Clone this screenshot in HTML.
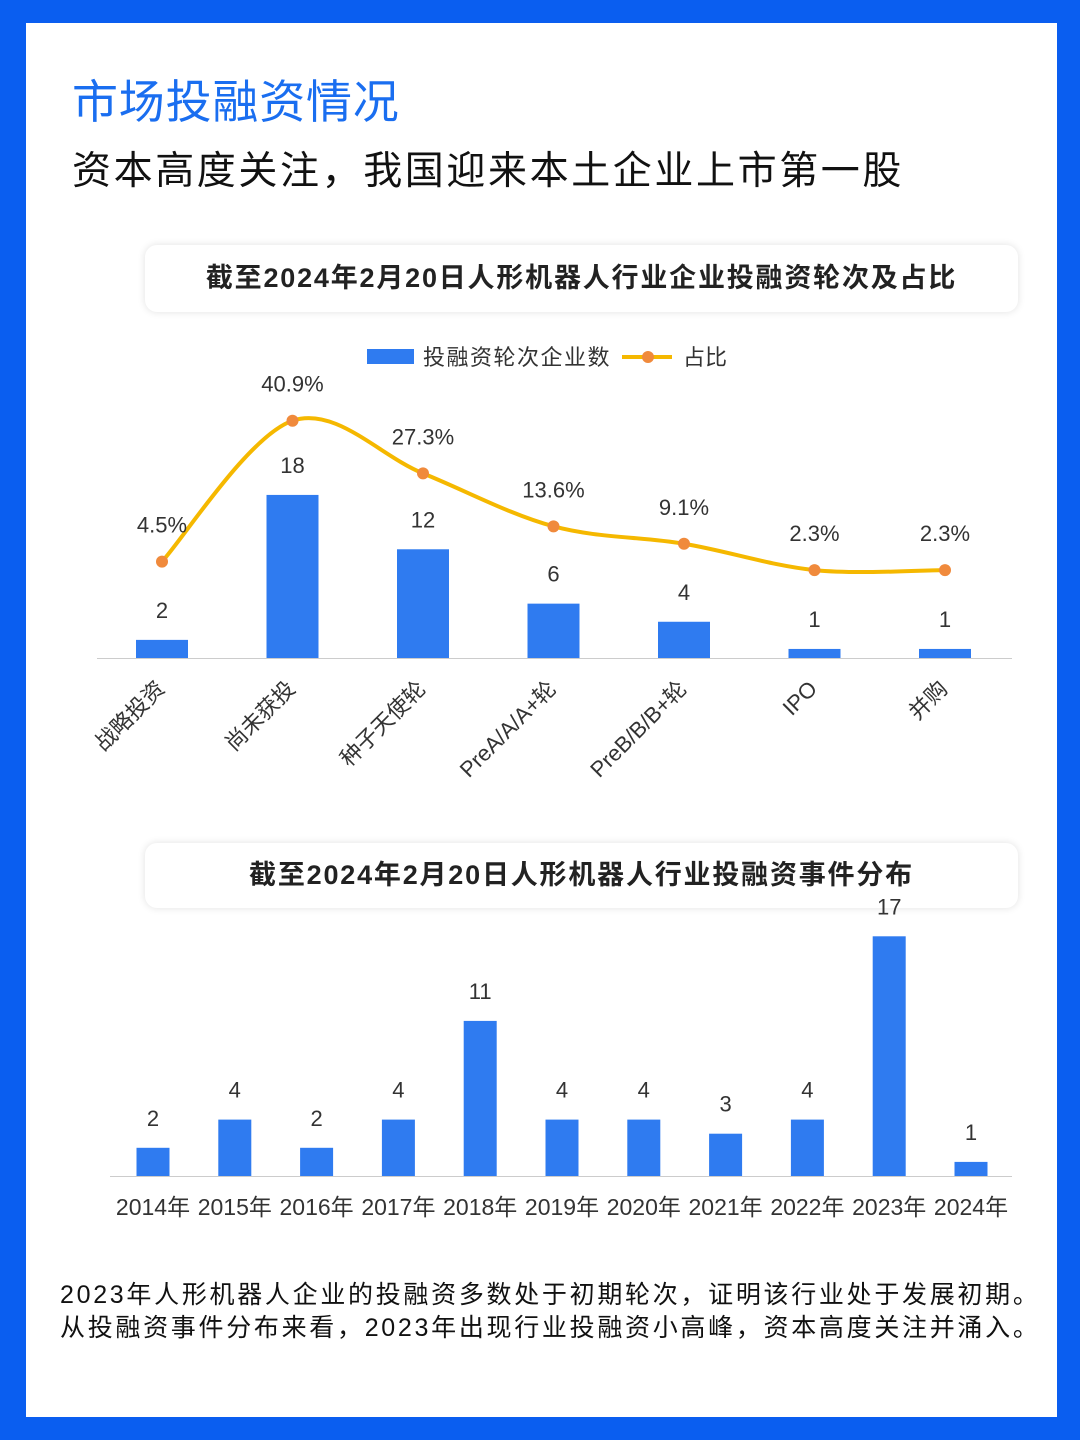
<!DOCTYPE html>
<html><head><meta charset="utf-8"><style>
body{margin:0;width:1080px;height:1440px;background:#0a5ef0;font-family:"Liberation Sans","Noto Sans CJK SC",sans-serif;position:relative;overflow:hidden}
#card{position:absolute;left:26px;top:23px;width:1031px;height:1394px;background:#fff}
.t{position:absolute;white-space:nowrap}
.box{position:absolute;left:145px;width:873px;background:#fff;border-radius:12px;box-shadow:0 0 8px rgba(0,0,0,0.12);text-align:center;font-weight:bold;font-size:27px;color:#222;letter-spacing:1.8px}
svg{position:absolute;left:0;top:0}
</style></head><body>
<div id="card"></div>
<div class="t" style="left:72px;top:66px;font-size:46px;color:#1a6ef0;letter-spacing:0.8px">市场投融资情况</div>
<div class="t" style="left:72px;top:140px;font-size:39px;color:#111;letter-spacing:2.6px">资本高度关注，我国迎来本土企业上市第一股</div>
<div class="box" style="top:245px;height:67px;line-height:67px">截至2024年2月20日人形机器人行业企业投融资轮次及占比</div>
<div class="box" style="top:843px;height:65px;line-height:65px">截至2024年2月20日人形机器人行业投融资事件分布</div>
<div class="t" style="left:60px;top:1279px;font-size:25px;line-height:33px;color:#111;letter-spacing:2.7px">2023年人形机器人企业的投融资多数处于初期轮次，证明该行业处于发展初期。<br>从投融资事件分布来看，2023年出现行业投融资小高峰，资本高度关注并涌入。</div>
<svg id="s" width="1080" height="1440"></svg>
<script>
const cats1=["战略投资","尚未获投","种子天使轮","PreA/A/A+轮","PreB/B/B+轮","IPO","并购"];
const counts1=[2,18,12,6,4,1,1];
const pct1=[4.5,40.9,27.3,13.6,9.1,2.3,2.3];
const cats2=["2014年","2015年","2016年","2017年","2018年","2019年","2020年","2021年","2022年","2023年","2024年"];
const counts2=[2,4,2,4,11,4,4,3,4,17,1];
const NS="http://www.w3.org/2000/svg";
const s=document.getElementById('s');
function mk(t,a,txt){const e=document.createElementNS(NS,t);for(const k in a)e.setAttribute(k,a[k]);if(txt!==undefined)e.textContent=txt;s.appendChild(e);return e;}
const F='"Liberation Sans","Noto Sans CJK SC",sans-serif';
const x1=i=>162+i*130.5, y1=v=>658-v*9.06, yp=v=>579-v*3.87;
let ax=mk('line',{x1:97,x2:1012,y1:658.5,y2:658.5,stroke:'#ccc','stroke-width':1});

counts1.forEach((v,i)=>{
 let r=mk('rect',{x:x1(i)-26,y:y1(v),width:52,height:658-y1(v),fill:'#2f7bf0'});
 
 let l=mk('text',{x:x1(i),y:y1(v)-22,'text-anchor':'middle','font-size':22,fill:'#333','font-family':F},v);
 
 let c=mk('text',{x:0,y:0,'text-anchor':'end','font-size':22,fill:'#333','font-family':F,transform:`translate(${x1(i)+4},${690}) rotate(-45)`},cats1[i]);
 
});
const P=pct1.map((v,i)=>[x1(i),yp(v)]);
let d='M'+P[0][0]+','+P[0][1];
for(let i=0;i<P.length-1;i++){const p0=P[Math.max(0,i-1)],p1=P[i],p2=P[i+1],p3=P[Math.min(P.length-1,i+2)];
 d+=` C${p1[0]+(p2[0]-p0[0])/6},${p1[1]+(p2[1]-p0[1])/6} ${p2[0]-(p3[0]-p1[0])/6},${p2[1]-(p3[1]-p1[1])/6} ${p2[0]},${p2[1]}`;}
let pl=mk('path',{d:d,fill:'none',stroke:'#f5b800','stroke-width':4});

pct1.forEach((v,i)=>{
 let c=mk('circle',{cx:x1(i),cy:yp(v),r:6,fill:'#f08a3c'});
 
 let l=mk('text',{x:x1(i),y:yp(v)-29,'text-anchor':'middle','font-size':22,fill:'#333','font-family':F},v.toFixed(1)+'%');
 
});
let lg=mk('rect',{x:367,y:349,width:47,height:15,fill:'#2f7bf0'});
let lt=mk('text',{x:423,y:365,'font-size':22,fill:'#333','font-family':F,'letter-spacing':1.5},'投融资轮次企业数');
let ll=mk('line',{x1:622,x2:672,y1:357,y2:357,stroke:'#f5b800','stroke-width':4});
let lc=mk('circle',{cx:648,cy:357,r:6,fill:'#f08a3c'});
let lt2=mk('text',{x:683,y:365,'font-size':22,fill:'#333','font-family':F},'占比');
const x2=i=>153+i*81.8, y2=v=>1176-v*14.1;
let ax2=mk('line',{x1:110,x2:1012,y1:1176.5,y2:1176.5,stroke:'#ccc','stroke-width':1});

counts2.forEach((v,i)=>{
 let r=mk('rect',{x:x2(i)-16.5,y:y2(v),width:33,height:1176-y2(v),fill:'#2f7bf0'});
 
 let l=mk('text',{x:x2(i),y:y2(v)-22,'text-anchor':'middle','font-size':22,fill:'#333','font-family':F},v);
 
 let c=mk('text',{x:x2(i),y:1215,'text-anchor':'middle','font-size':23,fill:'#333','font-family':F},cats2[i]);
 
});
</script>
</body></html>
